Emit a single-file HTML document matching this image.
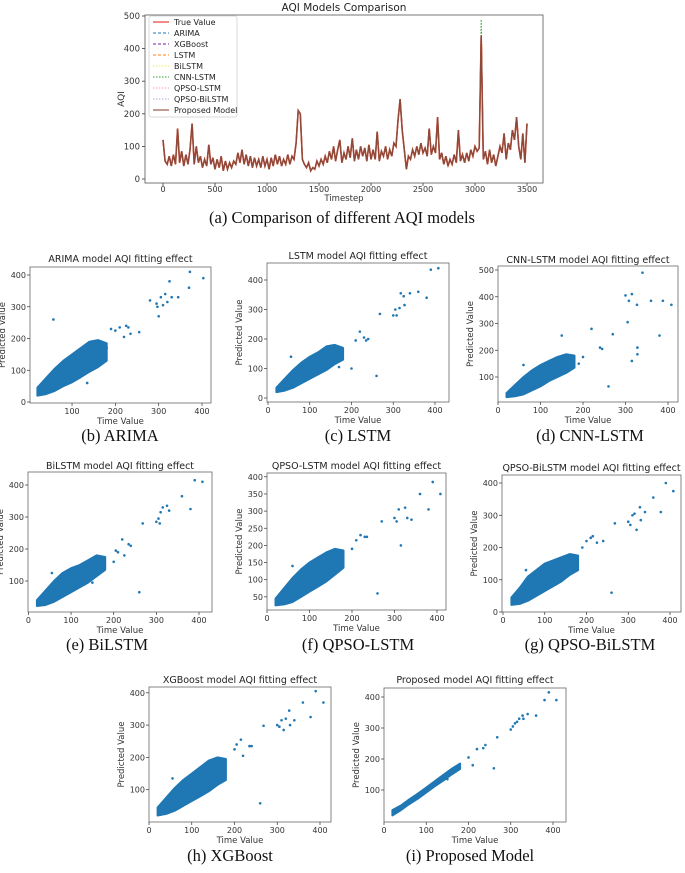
<!DOCTYPE html>
<html><head><meta charset="utf-8">
<style>
html,body{margin:0;padding:0;background:#fff;}
svg text{font-family:"DejaVu Sans","Liberation Sans",sans-serif;}
.cap{font-family:"Liberation Serif",serif;font-size:16.5px;fill:#111;}
</style></head>
<body>
<svg id="fig" width="685" height="868" viewBox="0 0 685 868" xmlns="http://www.w3.org/2000/svg"></svg>
<script>
// ---------- Top chart data ----------
const timeStep = 20;
const trueValues = [120,55,45,70,40,75,45,155,50,85,40,75,45,90,170,45,100,50,70,35,60,40,105,45,65,30,60,35,70,25,55,30,50,35,55,45,80,50,90,45,75,40,70,35,65,40,60,35,70,40,60,30,65,40,75,45,70,40,60,45,75,45,70,60,110,210,200,60,45,35,50,25,35,30,55,40,60,45,70,50,85,60,100,55,90,120,50,80,60,100,65,125,55,90,60,100,70,95,55,105,60,90,60,145,55,85,70,100,60,90,70,110,100,180,245,150,90,30,70,60,90,70,100,75,110,80,95,70,155,75,100,80,190,60,80,45,70,40,60,45,75,50,150,55,75,50,80,55,90,70,100,85,95,440,60,85,45,90,50,75,40,70,100,80,140,60,110,90,150,120,190,100,60,140,50,170];
const cnnSpikeStep = 153;
const cnnSpikeValue = 490;
const legendNames = ["True Value","ARIMA","XGBoost","LSTM","BiLSTM","CNN-LSTM","QPSO-LSTM","QPSO-BiLSTM","Proposed Model"];
const topYTicks = [0,100,200,300,400,500];
const topXTicks = [0,500,1000,1500,2000,2500,3000,3500];

// ---------- Scatter data ----------
const cloudX = [20,40,60,80,100,120,140,160,180];
const loB=[20,25,35,50,62,78,95,110,130], hiB=[45,75,105,130,150,170,190,195,185];
const loC=[20,25,35,50,65,80,95,115,130], hiC=[35,65,95,120,140,155,175,180,170];
const loD=[25,28,35,50,65,85,100,115,135], hiD=[40,70,100,125,145,160,175,185,180];
const loE=[22,25,35,50,65,80,95,115,135], hiE=[40,70,100,125,140,150,165,180,175];
const loF=[25,28,35,50,65,80,95,115,135], hiF=[45,75,105,130,150,165,180,190,185];
const loG=[22,25,35,50,65,80,95,115,130], hiG=[45,75,110,130,150,160,170,180,175];
const loH=[20,25,35,50,65,80,95,115,130], hiH=[45,75,105,130,150,170,190,200,195];
const loI=[18,35,55,72,92,112,130,150,168], hiI=[35,50,70,88,108,128,148,168,185];

const outB=[[57,260],[135,60],[180,170],[190,230],[200,225],[210,235],[220,205],[225,240],[230,235],[235,215],[255,220],[280,320],[295,310],[297,300],[300,270],[305,330],[310,305],[315,340],[320,315],[325,380],[330,330],[345,330],[370,360],[372,410],[403,390]];
const outC=[[55,140],[170,105],[200,100],[210,195],[220,225],[230,205],[235,195],[240,200],[260,75],[268,285],[300,280],[305,300],[308,280],[315,305],[318,355],[325,345],[327,315],[340,355],[360,360],[380,340],[390,435],[408,440]];
const outD=[[60,145],[150,255],[190,150],[200,175],[220,280],[240,210],[245,205],[260,65],[270,260],[300,405],[305,305],[308,385],[315,410],[327,370],[328,210],[328,185],[315,160],[340,490],[360,385],[380,255],[388,385],[408,370]];
const outE=[[55,125],[150,95],[200,160],[205,195],[210,190],[220,230],[225,180],[235,215],[240,210],[260,65],[268,280],[300,285],[305,295],[308,280],[310,315],[315,330],[325,335],[330,320],[360,365],[380,325],[390,415],[408,410]];
const outF=[[60,140],[200,190],[210,215],[220,230],[230,225],[235,225],[260,60],[270,270],[300,280],[305,270],[310,305],[315,200],[325,310],[330,280],[340,275],[360,350],[380,305],[390,385],[408,350]];
const outG=[[55,130],[190,200],[200,220],[210,230],[215,235],[225,215],[240,220],[260,60],[268,275],[300,280],[305,270],[310,300],[315,305],[320,255],[328,325],[330,285],[340,310],[360,355],[378,310],[390,400],[408,375]];
const outH=[[55,135],[175,165],[200,225],[205,240],[215,255],[220,205],[235,235],[240,235],[260,58],[268,298],[300,300],[305,295],[310,315],[315,285],[320,320],[328,345],[330,300],[340,315],[360,370],[378,325],[390,405],[408,370]];
const outI=[[150,135],[200,205],[210,180],[220,232],[235,235],[240,245],[260,170],[268,270],[300,295],[305,305],[310,315],[315,320],[320,330],[328,340],[330,330],[340,345],[360,340],[380,390],[390,415],[408,390]];

const xt4=[100,200,300,400], xt5=[0,100,200,300,400];
const yt0=[0,100,200,300,400], yt1=[100,200,300,400], yt5=[100,200,300,400,500], ytF=[50,100,150,200,250,300,350,400];

const NS="http://www.w3.org/2000/svg";
const fig=document.getElementById('fig');
function mk(tag,attrs,parent){const e=document.createElementNS(NS,tag);for(const k in attrs)e.setAttribute(k,attrs[k]);(parent||fig).appendChild(e);return e;}
function txt(s,attrs,parent){const e=mk('text',attrs,parent);e.textContent=s;return e;}

// ---------- Top chart ----------
(function(){
  const g=mk('g',{});
  
  
  const L=145,R=543,T=15,B=183;
  const sx=v=>163+v*(527-163)/3500;
  const sy=v=>179-v*(179-16)/500;
  const ttl=txt('AQI Models Comparison',{x:344,y:11,'font-size':10.5,'text-anchor':'middle',fill:'#222'},g);
  
  topYTicks.forEach(t=>{mk('line',{x1:L-3,x2:L,y1:sy(t),y2:sy(t),stroke:'#333','stroke-width':0.8},g);
    const e=txt(String(t),{x:L-5,y:sy(t)+3,'font-size':8.5,'text-anchor':'end',fill:'#333'},g);});
  topXTicks.forEach(t=>{mk('line',{x1:sx(t),x2:sx(t),y1:B,y2:B+3,stroke:'#333','stroke-width':0.8},g);
    const e=txt(String(t),{x:sx(t),y:B+9,'font-size':8,'text-anchor':'middle',fill:'#333'},g);});
  const xl=txt('Timestep',{x:344,y:201,'font-size':8.5,'text-anchor':'middle',fill:'#333'},g);
  const yl=txt('AQI',{x:0,y:0,'font-size':9,'text-anchor':'middle',fill:'#333',transform:'translate(124,99) rotate(-90)'},g);
  const ptsTrue=trueValues.map((v,i)=>sx(i*timeStep).toFixed(1)+','+sy(v).toFixed(1)).join(' ');
  const ptsCnn=trueValues.map((v,i)=>sx(i*timeStep).toFixed(1)+','+sy(i===cnnSpikeStep?cnnSpikeValue:v).toFixed(1)).join(' ');
  const cols=['#e8302a','#1f77b4','#7b1fa2','#ff7f0e','#f5e663','#2ca02c','#f19aa0','#b9a3d6','#8c4a3c'];
  const dashes=['','3,2','3,2','3,2','1.5,1.5','1.5,1.5','1.5,1.5','1.5,1.5',''];
  const l1=mk('polyline',{points:ptsCnn,fill:'none',stroke:cols[5],'stroke-width':1,'stroke-dasharray':'1.5,1.5'},g);
  const l0=mk('polyline',{points:ptsTrue,fill:'none',stroke:cols[0],'stroke-width':1.6},g);
  const l2=mk('polyline',{points:ptsTrue,fill:'none',stroke:cols[3],'stroke-width':1.3,'stroke-dasharray':'3,2'},g);
  const l3=mk('polyline',{points:ptsTrue,fill:'none',stroke:cols[8],'stroke-width':1.4},g);
  mk('rect',{x:L,y:T,width:R-L,height:B-T,fill:'none',stroke:'#555','stroke-width':0.8},g);
  const lg=mk('g',{},g);
  mk('rect',{x:149,y:16,width:88,height:101,fill:'#fff','fill-opacity':0.85,stroke:'#ccc','stroke-width':0.7,rx:2},lg);
  legendNames.forEach((n,i)=>{const y=22+i*11;
    const it=mk('g',{},lg);
    mk('line',{x1:153,x2:169,y1:y,y2:y,stroke:cols[i],'stroke-width':1.1,'stroke-dasharray':dashes[i]},it);
    txt(n,{x:174,y:y+3,'font-size':8,fill:'#222'},it);});
})();
const capA=txt('(a) Comparison of different AQI models',{x:342,y:223,'text-anchor':'middle','class':'cap'});


// ---------- Scatter panels ----------
function scatter(cfg){
  const g=mk('g',{});
  
  
  const sx=v=>cfg.x0+v*cfg.kx, sy=v=>cfg.y0-v*cfg.ky;
  const cx=(cfg.L+cfg.R)/2;
  const t=txt(cfg.title,{x:cfg.tx||cx,y:cfg.ty,'font-size':9.5,'text-anchor':'middle',fill:'#222'},g);
  const up=cloudX.map((x,i)=>sx(x).toFixed(1)+','+sy(cfg.hi[i]).toFixed(1));
  const dn=cloudX.map((x,i)=>sx(x).toFixed(1)+','+sy(cfg.lo[i]).toFixed(1)).reverse();
  const poly=mk('polygon',{points:up.concat(dn).join(' '),fill:'#1f77b4',stroke:'#1f77b4','stroke-width':2,'stroke-linejoin':'round'},g);
  
  cfg.out.forEach(p=>{const c=mk('circle',{cx:sx(p[0]),cy:sy(p[1]),r:1.3,fill:'#1f77b4'},g);
    });
  mk('rect',{x:cfg.L,y:cfg.T,width:cfg.R-cfg.L,height:cfg.B-cfg.T,fill:'none',stroke:'#666','stroke-width':0.8},g);
  cfg.xt.forEach(v=>{mk('line',{x1:sx(v),x2:sx(v),y1:cfg.B,y2:cfg.B+3,stroke:'#333','stroke-width':0.7},g);
    const e=txt(String(v),{x:sx(v),y:cfg.B+11,'font-size':8,'text-anchor':'middle',fill:'#333'},g);});
  cfg.yt.forEach(v=>{mk('line',{x1:cfg.L-3,x2:cfg.L,y1:sy(v),y2:sy(v),stroke:'#333','stroke-width':0.7},g);
    const e=txt(String(v),{x:cfg.L-4,y:sy(v)+3,'font-size':8,'text-anchor':'end',fill:'#333'},g);});
  const xl=txt('Time Value',{x:cx,y:cfg.B+21,'font-size':8.5,'text-anchor':'middle',fill:'#333'},g);
  const my=(cfg.T+cfg.B)/2;
  const yl=txt('Predicted Value',{x:0,y:0,'font-size':8.5,'text-anchor':'middle',fill:'#333',transform:'translate('+(cfg.L-cfg.yoff)+','+my+') rotate(-90)'},g);
  const cap=txt(cfg.cap,{x:cfg.capx,y:cfg.capy,'text-anchor':'middle','class':'cap'});
}
scatter({name:'arima-panel',title:'ARIMA model AQI fitting effect',L:30,R:211,T:267,B:403,x0:28.7,kx:0.4333,y0:402,ky:0.3175,xt:xt4,yt:yt0,lo:loB,hi:hiB,out:outB,ty:262,yoff:25,cap:'(b) ARIMA',capx:120,capy:441});
scatter({name:'lstm-panel',title:'LSTM model AQI fitting effect',L:267,R:449,T:263,B:402,x0:268,kx:0.4175,y0:398,ky:0.295,xt:xt5,yt:yt0,lo:loC,hi:hiC,out:outC,ty:259,yoff:25,cap:'(c) LSTM',capx:358,capy:441});
scatter({name:'cnn-lstm-panel',title:'CNN-LSTM model AQI fitting effect',L:498,R:678,T:266,B:402,x0:498,kx:0.425,y0:403.75,ky:0.2675,xt:xt5,yt:yt5,lo:loD,hi:hiD,out:outD,ty:263,yoff:25,cap:'(d) CNN-LSTM',capx:590,capy:441});
scatter({name:'bilstm-panel',title:'BiLSTM model AQI fitting effect',L:28,R:212,T:472,B:612,x0:28.4,kx:0.4265,y0:613,ky:0.32,xt:xt5,yt:yt1,lo:loE,hi:hiE,out:outE,ty:469,yoff:25,cap:'(e) BiLSTM',capx:107,capy:650});
scatter({name:'qpso-lstm-panel',title:'QPSO-LSTM model AQI fitting effect',L:267,R:446,T:473,B:610,x0:267,kx:0.425,y0:614,ky:0.343,xt:xt5,yt:ytF,lo:loF,hi:hiF,out:outF,ty:469,yoff:25,cap:'(f) QPSO-LSTM',capx:358,capy:650});
scatter({name:'qpso-bilstm-panel',title:'QPSO-BiLSTM model AQI fitting effect',L:502,R:681,T:475,B:612,x0:503,kx:0.4175,y0:612,ky:0.3225,xt:xt5,yt:yt0,lo:loG,hi:hiG,out:outG,ty:471,yoff:25,cap:'(g) QPSO-BiLSTM',capx:590,capy:650});
scatter({name:'xgboost-panel',title:'XGBoost model AQI fitting effect',L:149,R:331,T:687,B:822,x0:149,kx:0.4275,y0:822,ky:0.323,xt:xt5,yt:yt1,lo:loH,hi:hiH,out:outH,ty:683,yoff:25,cap:'(h) XGBoost',capx:230,capy:861});
scatter({name:'proposed-panel',title:'Proposed model AQI fitting effect',L:384,R:566,T:688,B:822,x0:384,kx:0.4225,y0:821,ky:0.31,xt:xt5,yt:yt1,lo:loI,hi:hiI,out:outI,ty:683,yoff:25,cap:'(i) Proposed Model',capx:470,capy:861});
</script>
</body></html>
